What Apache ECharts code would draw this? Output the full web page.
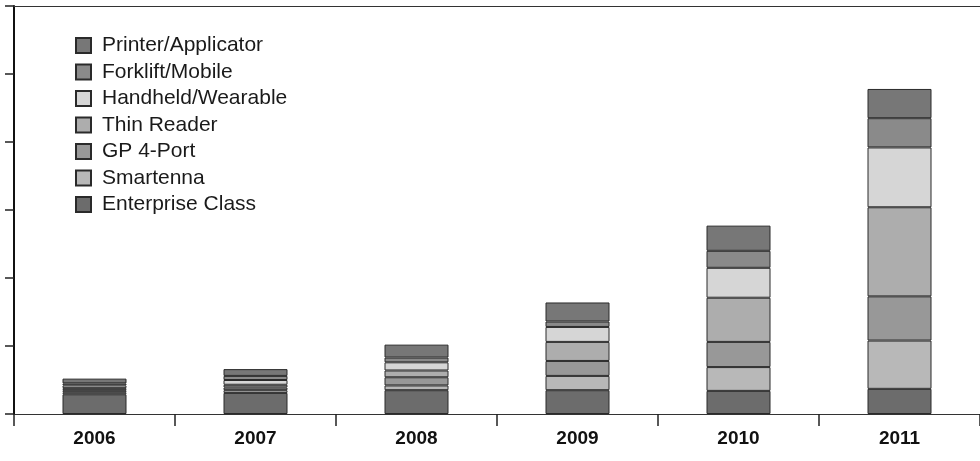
<!DOCTYPE html>
<html lang="en">
<head>
  <meta http-equiv="Content-Type" content="text/html; charset=UTF-8">
  <title>Reader shipments by type</title>
  <style>
    html, body {
      padding: 0;
      margin: 0;
      background: #fff;
    }
    #myChart {
      width: 980px;
      height: 461px;
    }
  </style>
</head>
<body>
  <div id="myChart"></div>
  <script src="https://cdn.jsdelivr.net/npm/echarts@6/dist/echarts.min.js"></script>
  <script>
    const myChart = echarts.init(document.getElementById('myChart'));

    const years = ['2006', '2007', '2008', '2009', '2010', '2011'];
    // bottom to top of each stack
    const enterpriseClass = [29, 31, 35, 35, 34, 37];
    const smartenna = [3, 4, 7, 21, 35, 71];
    const gp4Port = [3, 4, 12, 22, 37, 65];
    const thinReader = [3, 4, 10, 28, 65, 131];
    const handheldWearable = [4, 7, 12, 22, 44, 88];
    const forkliftMobile = [3, 6, 7, 8, 25, 43];
    const printerApplicator = [7, 10, 19, 28, 37, 43];

    const seriesList = [
      { name: 'Enterprise Class', data: enterpriseClass, color: '#6c6c6c' },
      { name: 'Smartenna', data: smartenna, color: '#b8b8b8' },
      { name: 'GP 4-Port', data: gp4Port, color: '#989898' },
      { name: 'Thin Reader', data: thinReader, color: '#adadad' },
      { name: 'Handheld/Wearable', data: handheldWearable, color: '#d6d6d6' },
      { name: 'Forklift/Mobile', data: forkliftMobile, color: '#8a8a8a' },
      { name: 'Printer/Applicator', data: printerApplicator, color: '#777777' }
    ];

    const option = {
      backgroundColor: '#fff',
      animation: false,
      textStyle: { fontFamily: 'Liberation Sans, Arial, sans-serif' },
      grid: {
        left: 14,
        right: 0,
        top: 6,
        bottom: 47
      },
      legend: {
        orient: 'vertical',
        left: 70,
        top: 30,
        icon: 'rect',
        itemWidth: 15,
        itemHeight: 15,
        itemGap: 5.5,
        data: seriesList.map(s => s.name).reverse(),
        textStyle: {
          fontSize: 21,
          color: '#1a1a1a',
          padding: [0, 0, 0, 6]
        }
      },
      xAxis: [{
        type: 'category',
        data: years,
        axisLine: { lineStyle: { color: '#333', width: 1 } },
        axisTick: { show: true, length: 12, lineStyle: { color: '#222', width: 1.5 } },
        axisLabel: {
          margin: 15,
          color: '#111',
          fontSize: 19,
          fontWeight: 'bold'
        }
      }, {
        type: 'category',
        position: 'top',
        data: years,
        axisLine: { lineStyle: { color: '#333', width: 1 } },
        axisTick: { show: false },
        axisLabel: { show: false }
      }],
      yAxis: {
        type: 'value',
        min: 0,
        max: 600,
        interval: 100,
        axisLine: { show: true, lineStyle: { color: '#111', width: 2 } },
        axisTick: { show: true, length: 9, lineStyle: { color: '#222', width: 1.5 } },
        axisLabel: { show: false },
        splitLine: { show: false }
      },
      series: seriesList.map(s => ({
        name: s.name,
        type: 'bar',
        stack: 'total',
        barWidth: 64,
        data: s.data,
        itemStyle: {
          color: s.color,
          borderColor: '#2a2a2a',
          borderWidth: 1
        }
      }))
    };

    myChart.setOption(option);
  </script>
</body>
</html>
